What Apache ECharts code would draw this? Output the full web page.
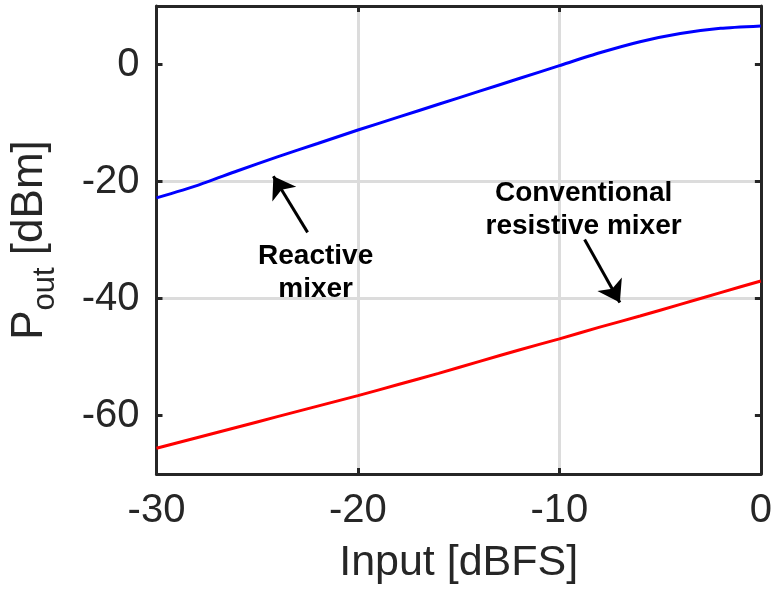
<!DOCTYPE html>
<html>
<head>
<meta charset="utf-8">
<script src="https://cdn.jsdelivr.net/npm/echarts@6/dist/echarts.min.js"></script>
<style>
  html, body { margin: 0; padding: 0; background: #ffffff; }
  #chart { width: 775px; height: 590px; }
</style>
</head>
<body>
<div id="chart"></div>
<script>
// ---- data ----
var inputDBFS = [-30, -28, -26, -24, -22, -20, -18, -16, -14, -12, -10, -8, -6, -4, -2, 0];
var reactiveMixer = [-22.8, -20.7, -18.2, -15.8, -13.5, -11.2, -9.0, -6.8, -4.6, -2.4, -0.2, 2.0, 3.9, 5.3, 6.2, 6.6];
var resistiveMixer = [-65.6, -63.8, -62.0, -60.2, -58.4, -56.6, -54.7, -52.8, -50.8, -48.8, -46.9, -44.9, -43.0, -41.0, -39.0, -37.0];
var xTicks = [-30, -20, -10, 0];
var yTicks = [-60, -40, -20, 0];
var reactiveLabel = 'Reactive\nmixer';
var reactiveLabelAt = [-22.1, -35.6];
var reactiveArrow = [[-22.5, -28.7], [-24.2, -19.1]];
var resistiveLabel = 'Conventional\nresistive mixer';
var resistiveLabelAt = [-8.8, -24.8];
var resistiveArrow = [[-8.75, -29.9], [-7.0, -40.7]];

var TXT = '#262626';
var FONT = 'Liberation Sans';

function pairs(xs, ys) { return xs.map(function (x, i) { return [x, ys[i]]; }); }

var chart = echarts.init(document.getElementById('chart'), null, { renderer: 'canvas' });

var axisLineStyle = { show: true, onZero: false, lineStyle: { color: TXT, width: 3 } };
var splitStyle = { show: true, showMinLine: false, showMaxLine: false, lineStyle: { color: '#dcdcdc', width: 3 } };

var option = {
  animation: false,
  backgroundColor: '#ffffff',
  grid: { left: 155, right: 10, top: 6, bottom: 115, containLabel: false },
  xAxis: [{
    type: 'value', min: -30, max: 0, interval: 10, position: 'bottom',
    name: 'Input [dBFS]', nameLocation: 'middle', nameGap: 68,
    nameTextStyle: { fontFamily: FONT, fontSize: 43, color: TXT },
    axisLine: axisLineStyle,
    axisTick: { show: true, inside: true, length: 6, lineStyle: { color: TXT, width: 3 } },
    axisLabel: { fontFamily: FONT, fontSize: 40, color: TXT, margin: 17, formatter: function (v) { return String(v); } },
    splitLine: splitStyle
  }, {
    type: 'value', min: -30, max: 0, interval: 10, position: 'top',
    axisLine: axisLineStyle,
    axisTick: { show: true, inside: true, length: 6, lineStyle: { color: TXT, width: 3 } },
    axisLabel: { show: false },
    splitLine: { show: false }
  }],
  yAxis: [{
    type: 'value', min: -70, max: 10, position: 'left',
    name: '{p|P}{s|out}{p| [dBm]}', nameLocation: 'middle', nameGap: 96, nameRotate: 90,
    nameTextStyle: {
      color: TXT, fontFamily: FONT,
      rich: {
        p: { fontFamily: FONT, fontSize: 44, color: TXT },
        s: { fontFamily: FONT, fontSize: 31, color: TXT, padding: [30, 0, 0, 0] }
      }
    },
    axisLine: axisLineStyle,
    axisTick: { show: true, inside: true, length: 6, customValues: yTicks, lineStyle: { color: TXT, width: 3 } },
    axisLabel: { fontFamily: FONT, fontSize: 40, color: TXT, margin: 17, customValues: yTicks },
    splitLine: splitStyle
  }, {
    type: 'value', min: -70, max: 10, position: 'right',
    axisLine: axisLineStyle,
    axisTick: { show: true, inside: true, length: 6, customValues: yTicks, lineStyle: { color: TXT, width: 3 } },
    axisLabel: { show: false },
    splitLine: { show: false }
  }],
  series: [{
    name: 'Reactive mixer', type: 'line', xAxisIndex: 0, yAxisIndex: 0,
    data: pairs(inputDBFS, reactiveMixer),
    showSymbol: false, symbol: 'none', smooth: 0.2,
    lineStyle: { color: '#0000ff', width: 3 },
    silent: true,
    markPoint: {
      symbol: 'circle', symbolSize: 0, silent: true,
      label: { show: true, position: 'inside', formatter: reactiveLabel, fontFamily: FONT, fontSize: 28, fontWeight: 'bold', color: '#000', lineHeight: 33, align: 'center' },
      data: [{ coord: reactiveLabelAt }]
    },
    markLine: {
      silent: true, symbol: ['none', 'arrow'], symbolSize: 21,
      label: { show: false },
      lineStyle: { color: '#000', width: 3, type: 'solid' },
      data: [[{ coord: reactiveArrow[0] }, { coord: reactiveArrow[1] }]]
    }
  }, {
    name: 'Conventional resistive mixer', type: 'line', xAxisIndex: 0, yAxisIndex: 0,
    data: pairs(inputDBFS, resistiveMixer),
    showSymbol: false, symbol: 'none', smooth: 0.2,
    lineStyle: { color: '#ff0000', width: 3 },
    silent: true,
    markPoint: {
      symbol: 'circle', symbolSize: 0, silent: true,
      label: { show: true, position: 'inside', formatter: resistiveLabel, fontFamily: FONT, fontSize: 28, fontWeight: 'bold', color: '#000', lineHeight: 33, align: 'center' },
      data: [{ coord: resistiveLabelAt }]
    },
    markLine: {
      silent: true, symbol: ['none', 'arrow'], symbolSize: 21,
      label: { show: false },
      lineStyle: { color: '#000', width: 3, type: 'solid' },
      data: [[{ coord: resistiveArrow[0] }, { coord: resistiveArrow[1] }]]
    }
  }]
};
chart.setOption(option);
</script>
</body>
</html>
